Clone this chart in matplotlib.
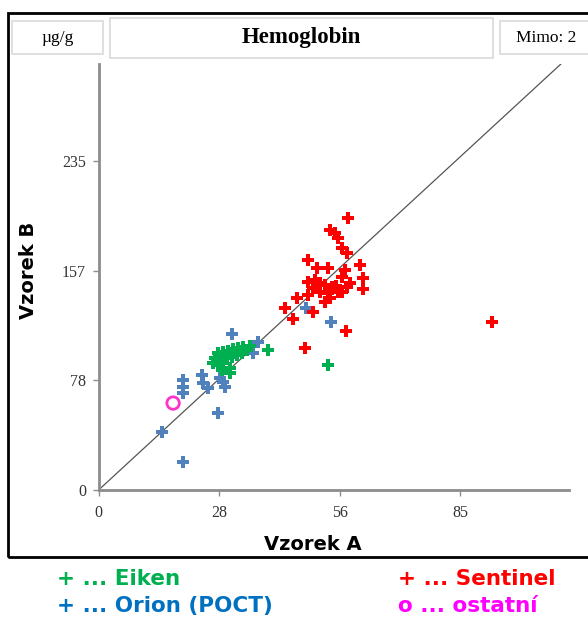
import matplotlib
matplotlib.use('Agg')
import matplotlib.pyplot as plt
from matplotlib.patches import Rectangle

# Eiken (green)
eiken_x = [28.0, 29.2, 30.4, 31.6, 32.7, 33.9, 34.9, 35.6, 33.7, 32.5, 31.3,
           30.2, 29.0, 27.3, 26.9, 28.0, 29.2, 30.9, 30.9, 29.0, 39.8, 53.9]
eiken_y = [97.9, 98.6, 99.3, 100.7, 101.4, 102.1, 100.0, 102.9, 97.9, 96.4, 95.0,
           94.3, 92.9, 94.3, 90.7, 89.3, 90.7, 87.1, 83.6, 85.7, 100.0, 89.3]

# Orion (POCT) (blue)
orion_x = [31.3, 37.4, 36.3, 24.3, 24.5, 25.7, 28.5, 29.2, 29.7, 19.8, 19.8,
           19.8, 28.0, 14.9, 19.8, 48.7, 54.6]
orion_y = [111.4, 105.7, 97.9, 82.1, 76.4, 72.9, 80.0, 77.1, 73.6, 78.6, 73.6,
           69.3, 55.0, 41.4, 20.0, 130.0, 120.0]

# Sentinel (red)
sentinel_x = [58.6, 54.4, 55.5, 56.2, 57.2, 58.4, 49.2, 61.4, 51.3, 53.9, 57.9,
              57.2, 62.1, 49.2, 50.8, 52.0, 53.2, 54.8, 59.1, 58.4, 62.1, 50.4,
              52.0, 53.9, 57.2, 49.2, 46.6, 54.4, 53.2, 43.8, 50.4, 45.7, 58.1,
              48.5, 92.4, 55.8, 51.6, 56.2]
sentinel_y = [194.3, 185.7, 183.6, 180.0, 172.9, 169.3, 164.3, 160.7, 158.6, 158.6, 157.1,
              152.1, 151.4, 148.6, 150.0, 147.9, 146.4, 145.0, 147.9, 145.0, 143.6, 144.3,
              141.4, 140.7, 141.4, 139.3, 137.1, 137.1, 134.3, 130.0, 127.1, 122.1, 113.6,
              101.4, 120.0, 145.7, 147.9, 141.4]

# ostatni (magenta circle)
other_x = [17.5]
other_y = [62.1]

# diagonal line
diag_x = [0, 108.6]
diag_y = [0, 304.3]

x_ticks = [0, 28.33, 56.67, 85]
x_labels = ['0', '28', '56', '85']
y_ticks = [0, 78.33, 156.67, 235]
y_labels = ['0', '78', '157', '235']

W, H = 588, 621
fig = plt.figure(figsize=(5.88, 6.21), dpi=100)


def fx(p):
    return p / W


def fy(p):
    return 1 - p / H


ax = fig.add_axes([fx(98.6), fy(490), fx(569) - fx(98.6), fy(64) - fy(490)])
ax.set_xlim(0, 110.5)
ax.set_ylim(0, 304.3)

ax.plot(diag_x, diag_y, color='#555555', lw=0.9, zorder=1)
ax.scatter(orion_x, orion_y, marker='P', s=85, color='#4F81BD', linewidths=0, zorder=2)
ax.scatter(eiken_x, eiken_y, marker='P', s=85, color='#00B050', linewidths=0, zorder=3)
ax.scatter(sentinel_x, sentinel_y, marker='P', s=85, color='#FF0000', linewidths=0, zorder=4)
ax.scatter(other_x, other_y, marker='o', s=80, facecolors='none', edgecolors='#FF33CC',
           linewidths=2, zorder=5)

for s in ['top', 'right']:
    ax.spines[s].set_visible(False)
for s in ['left', 'bottom']:
    ax.spines[s].set_color('#8c8c8c')
    ax.spines[s].set_linewidth(2)

ax.set_xticks(x_ticks)
ax.set_xticklabels(x_labels)
ax.set_yticks(y_ticks)
ax.set_yticklabels(y_labels)
ax.tick_params(colors='#8c8c8c', length=4, width=1, labelcolor='#333333', labelsize=11.5)
for lab in ax.get_xticklabels() + ax.get_yticklabels():
    lab.set_family('Liberation Serif')
ax.tick_params(axis='x', pad=7)
ax.tick_params(axis='y', pad=5)

fig.text(fx(313), fy(545), 'Vzorek A', ha='center', va='center', fontsize=14,
         fontweight='bold', family='DejaVu Sans')
fig.text(fx(28), fy(270), 'Vzorek B', ha='center', va='center', fontsize=14,
         fontweight='bold', family='DejaVu Sans', rotation=90)

# outer frame
fig.add_artist(Rectangle((fx(8), fy(557)), fx(600) - fx(8), fy(13) - fy(557),
                         transform=fig.transFigure, fill=False, edgecolor='black', lw=2))

# header boxes
boxes = [(12, 21, 103, 54, 'µg/g', 'normal', 12.5),
         (110, 18, 493, 58, 'Hemoglobin', 'bold', 16.5),
         (500, 21, 592, 54, 'Mimo: 2', 'normal', 12.5)]
for x0, y0, x1, y1, txt, wt, fs in boxes:
    fig.add_artist(Rectangle((fx(x0), fy(y1)), fx(x1) - fx(x0), fy(y0) - fy(y1),
                             transform=fig.transFigure, facecolor='white',
                             edgecolor='#d9d9d9', lw=1.2))
    fig.text(fx((x0 + x1) / 2), fy((y0 + y1) / 2), txt, ha='center', va='center',
             fontsize=fs, fontweight=wt, family='Liberation Serif')

# legend text
legend = [(57, 579, '+ ... Eiken', '#00B050'),
          (57, 606, '+ ... Orion (POCT)', '#0070C0'),
          (398, 579, '+ ... Sentinel', '#FF0000'),
          (398, 606, 'o ... ostatní', '#FF00FF')]
for x, y, txt, c in legend:
    fig.text(fx(x), fy(y), txt, ha='left', va='center', fontsize=15.5,
             fontweight='bold', family='DejaVu Sans', color=c)

fig.savefig('out.png', dpi=100)
